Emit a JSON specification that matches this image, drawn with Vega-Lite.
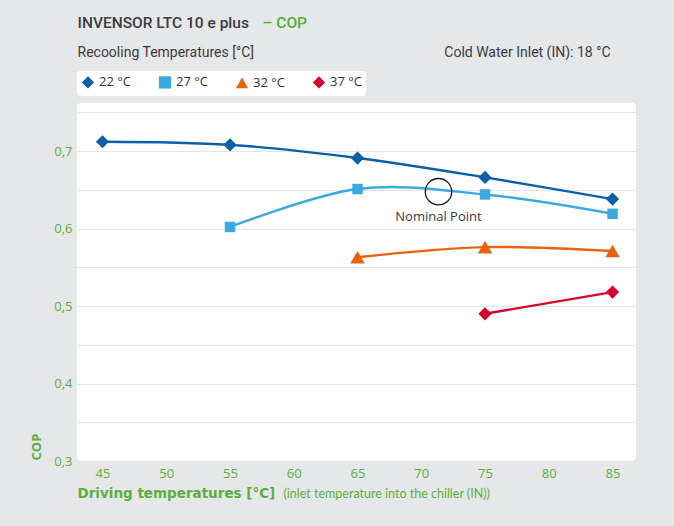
{
  "$schema": "https://vega.github.io/schema/vega-lite/v6.json",
  "width": 559,
  "height": 358,
  "autosize": {"type": "none"},
  "padding": {"left": 77, "top": 103, "right": 38, "bottom": 65},
  "background": "#e6e7e9",
  "config": {
    "view": {"fill": "white", "stroke": null, "cornerRadius": 4},
    "font": "Open Sans",
    "axis": {"grid": false, "ticks": false, "domain": false}
  },
  "datasets": {
    "curves": [
      {"series": "22 °C", "temp": 45, "cop": 0.712},
      {"series": "22 °C", "temp": 55, "cop": 0.708},
      {"series": "22 °C", "temp": 65, "cop": 0.691},
      {"series": "22 °C", "temp": 75, "cop": 0.666},
      {"series": "22 °C", "temp": 85, "cop": 0.638},
      {"series": "27 °C", "temp": 55, "cop": 0.602},
      {"series": "27 °C", "temp": 65, "cop": 0.651},
      {"series": "27 °C", "temp": 75, "cop": 0.644},
      {"series": "27 °C", "temp": 85, "cop": 0.619},
      {"series": "32 °C", "temp": 65, "cop": 0.563},
      {"series": "32 °C", "temp": 75, "cop": 0.576},
      {"series": "32 °C", "temp": 85, "cop": 0.571},
      {"series": "37 °C", "temp": 75, "cop": 0.490},
      {"series": "37 °C", "temp": 85, "cop": 0.518}
    ],
    "nominal": [{"temp": 71.35, "cop": 0.6475, "label": "Nominal Point"}]
  },
  "resolve": {
    "axis": {"x": "independent", "y": "independent"},
    "scale": {"shape": "independent", "color": "independent"}
  },
  "layer": [
    {
      "data": {"name": "curves"},
      "mark": {"type": "line", "interpolate": "cardinal", "strokeWidth": 2.4},
      "encoding": {
        "x": {
          "field": "temp", "type": "quantitative",
          "scale": {"domain": [43, 86.84], "nice": false, "zero": false},
          "axis": {
            "orient": "bottom",
            "values": [45, 50, 55, 60, 65, 70, 75, 80, 85],
            "labelColor": "#5aaf3c", "labelFontSize": 13, "labelPadding": 6,
            "title": "Driving temperatures [°C]",
            "titleColor": "#5aaf3c", "titleFontSize": 13.5, "titleFontWeight": "bold", "titleFont": "DejaVu Sans",
            "titleX": 0, "titleY": 36, "titleAlign": "left", "titleBaseline": "alphabetic", "titleAngle": 0
          }
        },
        "y": {
          "field": "cop", "type": "quantitative",
          "scale": {"domain": [0.3, 0.762], "nice": false, "zero": false},
          "axis": {
            "orient": "left",
            "values": [0.3, 0.35, 0.4, 0.45, 0.5, 0.55, 0.6, 0.65, 0.7, 0.75],
            "grid": true, "gridColor": "#e4e5e7", "gridWidth": 1,
            "labelExpr": "round(datum.value*20) % 2 == 0 ? replace(format(datum.value, '.1f'), '.', ',') : ''",
            "labelColor": "#5aaf3c", "labelFontSize": 13, "labelPadding": 5,
            "title": "COP",
            "titleColor": "#5aaf3c", "titleFontSize": 13, "titleFontWeight": "bold",
            "titleX": -41, "titleY": 357, "titleAngle": -90, "titleAlign": "left", "titleBaseline": "middle"
          }
        },
        "color": {
          "field": "series", "type": "nominal",
          "scale": {"domain": ["22 °C", "27 °C", "32 °C", "37 °C"], "range": ["#0b5ea8", "#3aa9dd", "#e8620f", "#d5002d"]},
          "legend": null
        },
        "detail": {"field": "series"}
      }
    },
    {
      "data": {"name": "curves"},
      "transform": [{"filter": "datum.series == '22 °C' || datum.series == '37 °C'"}],
      "mark": {"type": "point", "shape": "diamond", "size": 175, "filled": true, "opacity": 1},
      "encoding": {
        "x": {
          "field": "temp", "type": "quantitative",
          "axis": {
            "orient": "top", "labels": false,
            "title": "INVENSOR LTC 10 e plus",
            "titleColor": "#3c3c3c", "titleFontSize": 15.5, "titleFontWeight": 500, "titleFont": "Roboto",
            "titleX": 0, "titleY": -76, "titleAlign": "left", "titleBaseline": "alphabetic", "titleAngle": 0
          }
        },
        "y": {
          "field": "cop", "type": "quantitative",
          "axis": {
            "orient": "right", "labels": false,
            "title": "Cold Water Inlet (IN): 18 °C",
            "titleColor": "#3c3c3c", "titleFontSize": 14, "titleFontWeight": "normal", "titleFont": "Roboto",
            "titleX": -26, "titleY": -47, "titleAngle": 0, "titleAlign": "right", "titleBaseline": "alphabetic"
          }
        },
        "color": {
          "field": "series", "type": "nominal",
          "scale": {"domain": ["22 °C", "27 °C", "32 °C", "37 °C"], "range": ["#0b5ea8", "#3aa9dd", "#e8620f", "#d5002d"]},
          "legend": null
        }
      }
    },
    {
      "data": {"name": "curves"},
      "transform": [{"filter": "datum.series == '27 °C'"}],
      "mark": {"type": "point", "shape": "square", "size": 110, "filled": true, "opacity": 1, "color": "#3aa9dd"},
      "encoding": {
        "x": {"field": "temp", "type": "quantitative", "axis": null},
        "y": {"field": "cop", "type": "quantitative", "axis": null}
      }
    },
    {
      "data": {"name": "curves"},
      "transform": [{"filter": "datum.series == '32 °C'"}],
      "mark": {"type": "point", "shape": "triangle-up", "size": 210, "filled": true, "opacity": 1, "color": "#e8620f"},
      "encoding": {
        "x": {"field": "temp", "type": "quantitative", "axis": null},
        "y": {"field": "cop", "type": "quantitative", "axis": null}
      }
    },
    {
      "data": {"name": "nominal"},
      "mark": {"type": "point", "filled": false, "size": 700, "stroke": "#1a1a1a", "strokeWidth": 1.3, "opacity": 1},
      "encoding": {
        "x": {
          "field": "temp", "type": "quantitative",
          "axis": {
            "orient": "top", "labels": false,
            "title": "– COP",
            "titleColor": "#4fae32", "titleFontSize": 15.5, "titleFontWeight": 500, "titleFont": "Roboto",
            "titleX": 185, "titleY": -76, "titleAlign": "left", "titleBaseline": "alphabetic", "titleAngle": 0
          }
        },
        "y": {
          "field": "cop", "type": "quantitative",
          "axis": {
            "orient": "left", "labels": false,
            "title": "Recooling Temperatures [°C]",
            "titleColor": "#3c3c3c", "titleFontSize": 14, "titleFontWeight": "normal", "titleFont": "Roboto",
            "titleX": 0, "titleY": -47, "titleAngle": 0, "titleAlign": "left", "titleBaseline": "alphabetic"
          }
        }
      }
    },
    {
      "data": {"name": "nominal"},
      "mark": {"type": "text", "dy": 25, "fontSize": 13, "color": "#3a3a3a"},
      "encoding": {
        "x": {
          "field": "temp", "type": "quantitative",
          "axis": {
            "orient": "bottom", "labels": false,
            "title": "(inlet temperature into the chiller (IN))",
            "titleColor": "#5aaf3c", "titleFontSize": 12.5, "titleFontWeight": "normal", "titleFont": "Lato",
            "titleX": 206, "titleY": 36, "titleAlign": "left", "titleBaseline": "alphabetic", "titleAngle": 0
          }
        },
        "y": {"field": "cop", "type": "quantitative", "axis": null},
        "text": {"field": "label"}
      }
    },
    {
      "data": {"name": "curves"},
      "transform": [{"filter": "false"}],
      "mark": {"type": "point", "filled": true, "opacity": 1},
      "encoding": {
        "x": {"field": "temp", "type": "quantitative", "axis": null},
        "y": {"field": "cop", "type": "quantitative", "axis": null},
        "color": {
          "field": "series", "type": "nominal",
          "scale": {"domain": ["22 °C", "27 °C", "32 °C", "37 °C"], "range": ["#0b5ea8", "#3aa9dd", "#e8620f", "#d5002d"]},
          "legend": {
            "title": null,
            "orient": "none", "legendX": 0, "legendY": -32,
            "direction": "horizontal", "columns": 4, "columnPadding": 24,
            "padding": 4, "fillColor": "white", "cornerRadius": 3,
            "symbolSize": 150, "symbolOpacity": 1,
            "labelFontSize": 13, "labelColor": "#333333", "labelFont": "Open Sans"
          }
        },
        "shape": {
          "field": "series", "type": "nominal",
          "scale": {
            "domain": ["22 °C", "27 °C", "32 °C", "37 °C"],
            "range": ["diamond", "square", "triangle-up", "diamond"]
          },
          "legend": {
            "title": null,
            "orient": "none", "legendX": 0, "legendY": -32,
            "direction": "horizontal", "columns": 4, "columnPadding": 24,
            "padding": 4, "fillColor": "white", "cornerRadius": 3,
            "symbolSize": 150, "symbolOpacity": 1,
            "labelFontSize": 13, "labelColor": "#333333", "labelFont": "Open Sans"
          }
        }
      }
    }
  ]
}
